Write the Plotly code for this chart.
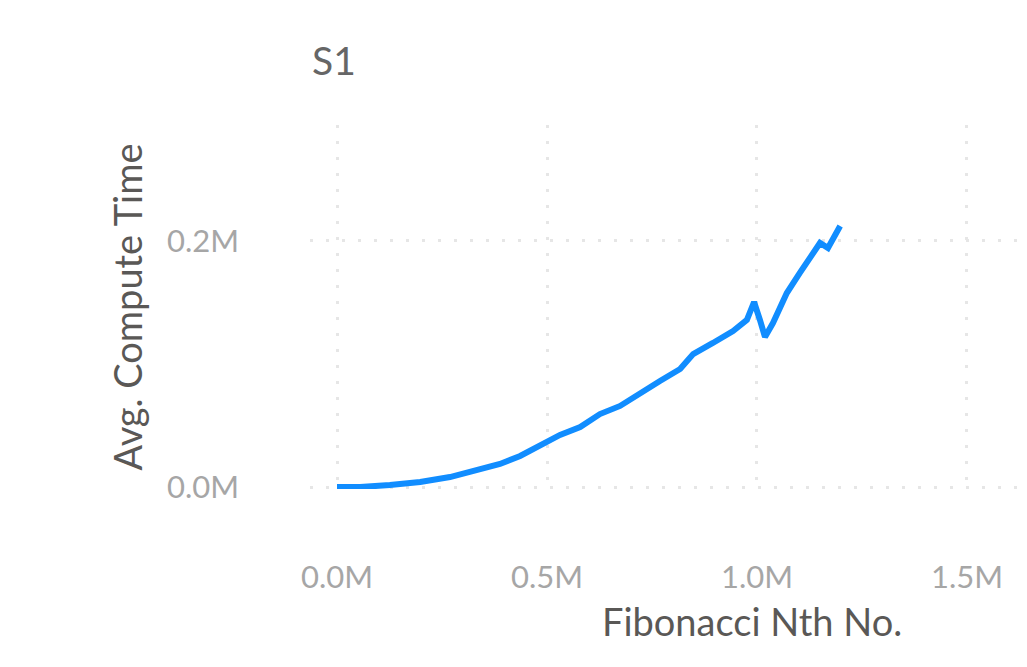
import plotly.graph_objects as go

# Fibonacci index (N) and average compute time per run
fib_n = [0, 55000, 126000, 198000, 269000, 340000, 388000, 436000, 483000,
         531000, 579000, 626000, 674000, 721000, 769000, 817000, 848000,
         895000, 943000, 976000, 993000, 1007000, 1019000, 1038000, 1071000,
         1102000, 1133000, 1150000, 1169000, 1181000, 1198000]
avg_time = [0, 0, 1600, 4100, 8100, 13800, 18700, 25200, 33300,
            42300, 48800, 59300, 65900, 76400, 86200, 95900, 108100,
            117100, 126800, 135800, 150400, 135800, 122000, 133300, 157700,
            174000, 190200, 198400, 194300, 200800, 212200]

x_tick_vals = [0, 500000, 1000000, 1500000]
x_tick_text = ["0.0M", "0.5M", "1.0M", "1.5M"]
y_tick_vals = [0, 200000]
y_tick_text = ["0.0M", "0.2M"]

FONT = "Segoe UI, Lato, Open Sans, sans-serif"
GRID = "#e6e6e6"
TICK_COLOR = "#a6a6a6"
TITLE_COLOR = "#5a5856"

fig = go.Figure(
    go.Scatter(
        x=fib_n,
        y=avg_time,
        mode="lines",
        line=dict(color="#118dff", width=6),
        hoverinfo="skip",
    )
)

fig.update_layout(
    width=1027,
    height=667,
    margin=dict(l=310, r=0, t=125, b=178, autoexpand=False),
    paper_bgcolor="white",
    plot_bgcolor="white",
    showlegend=False,
    font=dict(family=FONT),
    title=dict(
        text="S1",
        font=dict(size=39, color="#666666", family=FONT),
        xref="container", yref="container",
        x=312 / 1027, xanchor="left",
        y=1 - 61 / 667, yanchor="middle",
    ),
    xaxis=dict(
        range=[-64300, 1642900],
        tickvals=x_tick_vals,
        ticktext=x_tick_text,
        tickfont=dict(size=31, color=TICK_COLOR),
        ticklabelstandoff=67,
        showgrid=True,
        gridcolor=GRID,
        gridwidth=3,
        griddash="3px,13px",
        zeroline=False,
        showline=False,
        ticks="",
    ),
    yaxis=dict(
        range=[-1630, 294300],
        tickvals=y_tick_vals,
        ticktext=y_tick_text,
        tickfont=dict(size=31, color=TICK_COLOR),
        ticklabelstandoff=70,
        showgrid=True,
        gridcolor=GRID,
        gridwidth=3,
        griddash="3px,13px",
        zeroline=False,
        showline=False,
        ticks="",
        title=dict(
            text="Avg. Compute Time",
            font=dict(size=38, color=TITLE_COLOR),
            standoff=12,
        ),
    ),
    annotations=[
        dict(
            text="Fibonacci Nth No.",
            xref="paper", yref="paper",
            x=(600 - 310) / 717, xanchor="left",
            y=-(621 - 489) / 364, yanchor="middle",
            showarrow=False,
            font=dict(size=38, color=TITLE_COLOR, family=FONT),
        )
    ],
)

fig.write_html("out.html")
